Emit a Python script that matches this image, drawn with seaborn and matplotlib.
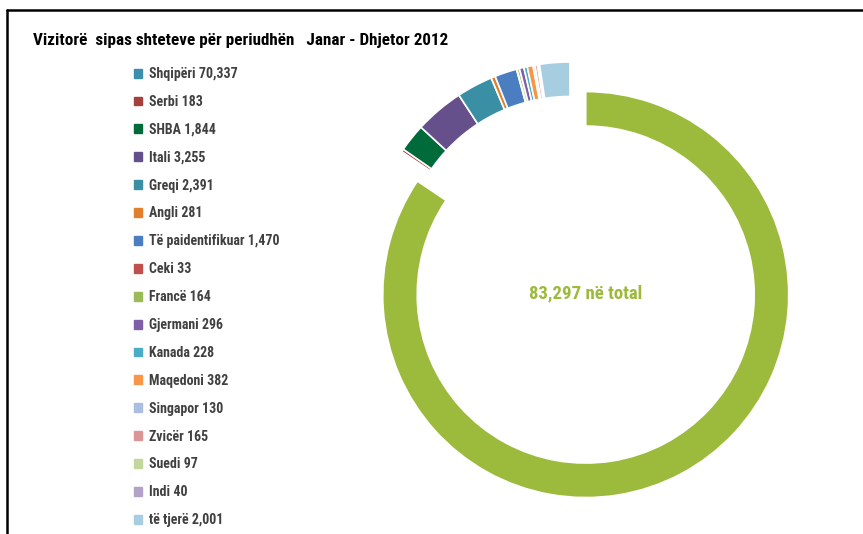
import numpy as np
import pandas as pd
import matplotlib
matplotlib.use("Agg")
import matplotlib.pyplot as plt
import seaborn as sns
from matplotlib.lines import Line2D
from matplotlib import font_manager

# Data
countries = ['Shqipëri', 'Serbi', 'SHBA', 'Itali', 'Greqi', 'Angli',
             'Të paidentifikuar', 'Ceki', 'Francë', 'Gjermani', 'Kanada',
             'Maqedoni', 'Singapor', 'Zvicër', 'Suedi', 'Indi', 'të tjerë']
visitors = [70337, 183, 1844, 3255, 2391, 281, 1470, 33, 164, 296, 228,
            382, 130, 165, 97, 40, 2001]
title = 'Vizitorë  sipas shteteve për periudhën   Janar - Dhjetor 2012'

df = pd.DataFrame({'Country': countries, 'Visitors': visitors})
total = df['Visitors'].sum()

# legend colours and the colours used in the ring (first slice drawn green)
legend_colors = ['#3a8fae', '#a5403d', '#006b3a', '#65508c', '#3a8fa5', '#e0802c',
                 '#4a7ec0', '#c0504d', '#9bbb59', '#7f5fa8', '#4bacc6', '#f79646',
                 '#a9bee0', '#d99694', '#c3d69b', '#b3a2c7', '#a6cee0']
ring_colors = ['#9cba3b'] + legend_colors[1:]

sns.set_theme(style='white')
installed = {f.name for f in font_manager.fontManager.ttflist}
narrow = [n for n in ['Roboto Condensed', 'Liberation Sans Narrow', 'Open Sans Condensed',
                      'DejaVu Sans Condensed'] if n in installed]
plt.rcParams['font.family'] = narrow[:1] + ['DejaVu Sans']
plt.rcParams['font.stretch'] = 'condensed'

W, H = 863, 534
fig = plt.figure(figsize=(W / 100, H / 100), dpi=100)

# pie axes: centre at (570, 265) px, radius 203 px
R = 203
cx, cy = 570, 265
side = 2.5 * R
ax = fig.add_axes([(cx - side / 2) / W, (H - cy - side / 2) / H, side / W, side / H])

explode = [0.165] + [0] * (len(df) - 1)
ax.pie(df['Visitors'], colors=ring_colors, startangle=90, counterclock=False,
       explode=explode, radius=1,
       wedgeprops=dict(width=0.17, edgecolor='white', linewidth=1.2))
ax.set_xlim(-1.25, 1.25)
ax.set_ylim(-1.25, 1.25)
ax.set_aspect('equal')

# centre label
fig.text(586 / W, 1 - 293 / H, f'{total:,} në total', ha='center', va='center',
         fontsize=13.5, fontweight='bold', color='#9cba3b')

# title
fig.text(33 / W, 1 - 40 / H, title, ha='left', va='center',
         fontsize=12.3, fontweight='bold', color='black')

# legend
handles = [plt.Rectangle((0, 0), 1, 1, color=c) for c in legend_colors]
labels = [f'{c} {v:,}' for c, v in zip(df['Country'], df['Visitors'])]
leg = fig.legend(handles, labels, loc='upper left',
                 bbox_to_anchor=(134 / W, 1 - 67 / H), frameon=False,
                 fontsize=10, labelspacing=1.0, handlelength=0.6,
                 handleheight=0.6, handletextpad=0.5, borderpad=0,
                 borderaxespad=0)
for t in leg.get_texts():
    t.set_color('#404040')
    t.set_fontweight('bold')

# frame lines
fig.add_artist(Line2D([7 / W, 7 / W], [0, 1 - 10 / H], color='black', lw=1.8))
fig.add_artist(Line2D([7 / W, 1], [1 - 10 / H, 1 - 10 / H], color='black', lw=1.8))

fig.savefig('out.png', dpi=100)
